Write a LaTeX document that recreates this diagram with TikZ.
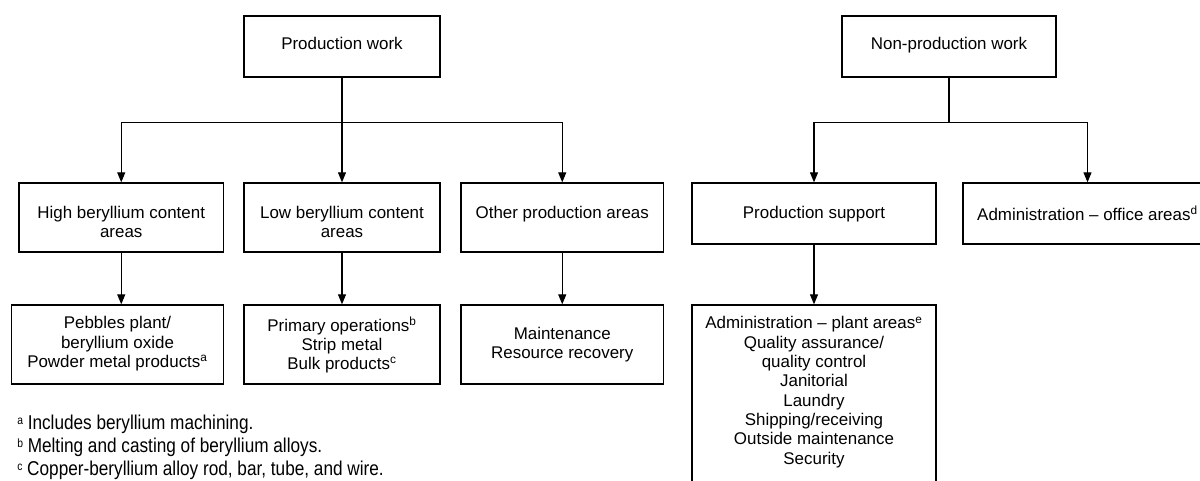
\documentclass[tikz,border=0pt]{standalone}
\usepackage{fontspec}
\setmainfont{Liberation Sans}
\newfontfamily\fnfont[FakeStretch=0.86]{Liberation Sans}
\usetikzlibrary{arrows.meta,fit}
\newcommand\fnmark[1]{\raisebox{3.6pt}{\fontsize{9}{9}\selectfont #1}}
\begin{document}
\begin{tikzpicture}[x=0.75pt,y=-0.75pt,
  box/.style={draw=black, line width=1pt, inner sep=0pt},
  txt/.style={inner sep=0pt, align=center, anchor=north, font=\fontsize{12.7}{14.5}\selectfont},
  conn/.style={line width=0.8pt},
  arr/.style={conn, -{Triangle[length=7.5pt,width=6pt]}},
  fn/.style={inner sep=0pt, anchor=base west, font=\fnfont\fontsize{15}{17}\selectfont}]
\useasboundingbox (0,0) rectangle (1200,481);
\clip (0,0) rectangle (1200,481);
\fill[white] (0,0) rectangle (1200,481);

% top level
\node[box, fit={(244,16) (440,77)}] (prod) {};
\node[txt] (prodt) at (342,37) {Production work};
\node[box, fit={(842,16) (1056,77)}] (nonprod) {};
\node[txt] (nonprodt) at (949,37) {Non-production work};

% level 2
\node[box, fit={(19,183) (223.5,252)}] (high) {};
\node[txt] (hight) at (121.25,205.7) {High beryllium content\\areas};
\node[box, fit={(244,183) (440,252)}] (low) {};
\node[txt] (lowt) at (342,205.7) {Low beryllium content\\areas};
\node[box, fit={(461,183) (663.5,252)}] (other) {};
\node[txt] (othert) at (562.25,205.7) {Other production areas};
\node[box, fit={(692,183) (936,244)}] (support) {};
\node[txt] (supportt) at (814,205.7) {Production support};
\node[box, fit={(963,183) (1212,244)}] (office) {};
\node[txt] (officet) at (1087.5,205.7) {Administration -- office areas\textsuperscript{d}};

% level 3
\node[box, fit={(11.5,305) (223.5,384)}] (pebbles) {};
\node[txt] (pebblest) at (117.5,316.4) {Pebbles plant/\\beryllium oxide\\Powder metal products\textsuperscript{a}};
\node[box, fit={(244,305) (440,384)}] (primary) {};
\node[txt] (primaryt) at (342,316.4) {Primary operations\textsuperscript{b}\\Strip metal\\Bulk products\textsuperscript{c}};
\node[box, fit={(461,305) (663.5,384)}] (maint) {};
\node[txt] (maintt) at (562.25,327) {Maintenance\\Resource recovery};
\node[box, fit={(692,305) (936,495)}] (plant) {};
\node[txt] (plantt) at (814,316.4) {Administration -- plant areas\textsuperscript{e}\\Quality assurance/\\quality control\\Janitorial\\Laundry\\Shipping/receiving\\Outside maintenance\\Security};

% connectors
\coordinate (lb) at (342,122.7);
\coordinate (rb) at (949,122.7);
\draw[conn] (prod.south) -- (lb);
\draw[arr] (lb) -- (low.north);
\draw[arr] (lb) -| (high.north);
\draw[arr] (lb) -| (other.north);
\draw[conn] (nonprod.south) -- (rb);
\draw[arr] (rb) -| (support.north);
\draw[arr] (rb) -| (office.north);
\draw[arr] (high.south) -- (high.south |- pebbles.north);
\draw[arr] (low.south) -- (primary.north);
\draw[arr] (other.south) -- (maint.north);
\draw[arr] (support.south) -- (plant.north);

% footnotes
\node[fn] (fna) at (17,429) {\fnmark{a} Includes beryllium machining.};
\node[fn] (fnb) at (17,452) {\fnmark{b} Melting and casting of beryllium alloys.};
\node[fn] (fnc) at (17,475) {\fnmark{c} Copper-beryllium alloy rod, bar, tube, and wire.};
\end{tikzpicture}
\end{document}
